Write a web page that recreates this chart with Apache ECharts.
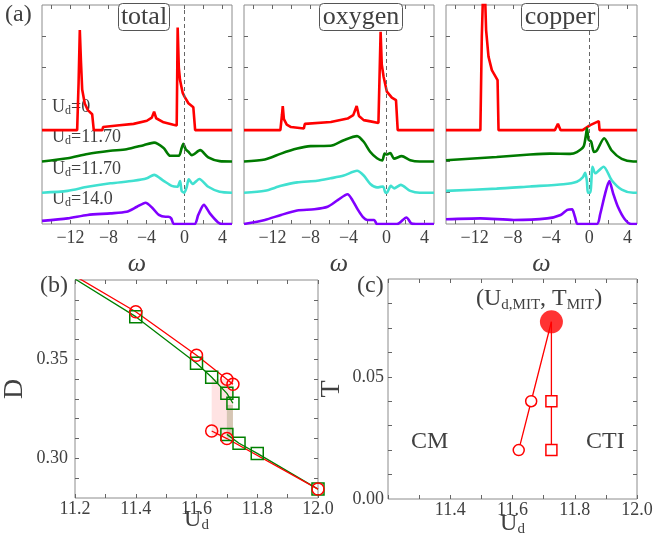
<!DOCTYPE html>
<html>
<head>
<meta charset="utf-8">
<script src="https://cdn.jsdelivr.net/npm/echarts@6/dist/echarts.min.js"></script>
<style>
html,body{margin:0;padding:0;background:#fff;}
#main{width:656px;height:548px;}
</style>
</head>
<body>
<div id="main"></div>
<script>
// spectral functions; baseline offset added below
var totalRed = [[-15,0],[-11.3,0],[-11.15,1.5],[-11.02,3.2],[-10.9,2.2],[-10.77,1.3],[-10.5,0.85],[-10.17,0.64],[-9.72,0.51],[-9.6,0.49],[-9.55,0],[-8.65,0],[-8.57,0.1],[-7.1,0.15],[-5.36,0.2],[-3.96,0.3],[-3.44,0.4],[-3.2,0.59],[-2.98,0.38],[-2.2,0.25],[-1.17,0.17],[-0.82,0.15],[-0.76,2.0],[-0.72,3.28],[-0.6,2.0],[-0.47,1.6],[-0.2,1.2],[0.0,1.07],[0.41,0.86],[0.93,0.73],[1.05,0.7],[1.12,0],[5,0]];
var totalGreen = [[-15,0],[-12.3,0.1],[-10.2,0.24],[-7.8,0.34],[-6.1,0.39],[-4.3,0.52],[-3.2,0.6],[-2.2,0.43],[-1.5,0.18],[-0.6,0.18],[-0.3,0.43],[-0.12,0.56],[0.12,0.39],[0.41,0.31],[0.77,0.2],[1.65,0.36],[2.5,0.13],[3.7,0.01],[5,0]];
var totalCyan = [[-15,0],[-12.3,0.06],[-10.2,0.19],[-7.8,0.3],[-5.36,0.38],[-3.96,0.46],[-3.2,0.57],[-2.2,0.38],[-1.35,0.22],[-0.75,0.19],[-0.47,0.37],[-0.3,0.06],[-0.03,0],[0.24,0.19],[0.45,0.43],[0.86,0.28],[1.56,0.44],[2.5,0.19],[3.7,0.03],[5,0]];
var totalPurple = [[-15,0.1],[-12.3,0.18],[-10.2,0.29],[-7.8,0.34],[-6.1,0.39],[-5.0,0.55],[-4.1,0.68],[-3.4,0.52],[-2.7,0.29],[-2.0,0.23],[-1.7,0.23],[-1.4,0.18],[-1.1,0],[1.05,0],[1.45,0.29],[2.04,0.61],[2.67,0.34],[3.54,0.05],[4.06,0],[5,0]];

var oxyRed = [[-15,0],[-11.17,0],[-11.0,0.5],[-10.92,0.77],[-10.8,0.35],[-10.5,0.18],[-10.05,0.1],[-8.7,0.05],[-8.6,0.2],[-5.86,0.26],[-4.1,0.37],[-3.5,0.48],[-3.14,0.77],[-2.9,0.45],[-2.4,0.32],[-1.68,0.28],[-0.85,0.23],[-0.62,3.14],[-0.5,2.1],[-0.3,1.7],[0.04,1.23],[0.56,1.04],[1.0,0.96],[1.1,0.94],[1.18,0],[5,0]];
var oxyGreen = [[-15,0],[-12.8,0.06],[-11.1,0.25],[-9.4,0.41],[-8.0,0.49],[-5.9,0.5],[-4.5,0.68],[-3.1,0.81],[-2.4,0.63],[-1.7,0.3],[-1.0,0.1],[-0.45,0.03],[-0.2,0.25],[0.05,0.22],[0.4,0.27],[0.8,0.09],[1.6,0.17],[2.5,0.04],[3.5,0],[5,0]];
var oxyCyan = [[-15,0],[-12.8,0.06],[-11.1,0.22],[-9.4,0.33],[-7.3,0.38],[-5.9,0.46],[-4.5,0.55],[-3.1,0.7],[-2.4,0.55],[-1.7,0.28],[-1.0,0.17],[-0.37,0.2],[-0.1,0],[0.04,0],[0.45,0.22],[0.8,0.14],[1.5,0.25],[2.5,0.06],[3.5,0],[5,0]];
var oxyPurple = [[-15,0],[-12.8,0.13],[-11.1,0.29],[-9.4,0.43],[-7.6,0.47],[-6.2,0.55],[-5.1,0.77],[-4.1,0.95],[-3.6,0.77],[-3.0,0.45],[-2.5,0.23],[-2.0,0.13],[-1.3,0.13],[-1.0,0],[1.1,0],[2.1,0.21],[2.6,0.02],[3.1,0],[5,0]];

var cuRed = [[-15,0],[-11.4,0],[-11.25,3.0],[-11.1,4.6],[-10.9,4.2],[-10.8,3.2],[-10.55,2.35],[-10.2,1.92],[-9.6,1.6],[-9.5,0],[-3.6,0],[-3.28,0.2],[-3.0,0],[-0.7,0],[0.1,0.16],[1.0,0.29],[1.08,0],[5,0]];
var cuGreen = [[-15,0.04],[-9.7,0.14],[-6.2,0.22],[-4.1,0.25],[-2.0,0.24],[-1.3,0.3],[-0.6,0.47],[-0.35,0.84],[-0.24,1.06],[-0.07,0.7],[0.2,0.63],[0.5,0.3],[0.8,0.35],[1.56,0.74],[2.35,0.35],[3.4,0.08],[4.6,0],[5,0]];
var cuCyan = [[-15,0.06],[-9.7,0.13],[-6.2,0.2],[-2.7,0.27],[-1.3,0.35],[-0.66,0.5],[-0.42,0.64],[-0.24,0.35],[-0.14,0],[0.1,0],[0.35,0.83],[0.63,0.62],[1.5,0.83],[2.35,0.4],[3.4,0.1],[4.6,0],[5,0]];
var cuPurple = [[-15,0.15],[-11.4,0.18],[-7.9,0.13],[-4.4,0.18],[-3.0,0.29],[-2.3,0.45],[-1.8,0.47],[-1.5,0.23],[-1.2,0],[0.8,0],[1.15,0.32],[1.67,0.98],[2.1,1.37],[2.5,0.98],[3.0,0.55],[3.7,0.16],[4.4,0],[5,0]];

var offsets = [3, 2, 1, 0];
var curveColors = ['#ff0000', '#007a00', '#40e0d0', '#8000ff'];
var panelNames = ['total', 'oxygen', 'copper'];
var panelCurves = [
  [totalRed, totalGreen, totalCyan, totalPurple],
  [oxyRed, oxyGreen, oxyCyan, oxyPurple],
  [cuRed, cuGreen, cuCyan, cuPurple]
];
var udLabels = ['0', '11.70', '11.70', '14.0'];
var omegaLabels = [-12, -8, -4, 0, 4];
var omegaTicks = [-14, -12, -10, -8, -6, -4, -2, 0, 2, 4];
var levelTicks = [1, 2, 3, 4, 5, 6];

// (b) double occupancy D vs U_d
var bRedUpUd = [11.2, 11.4, 11.6, 11.70, 11.72];
var bRedUpD = [0.392, 0.374, 0.352, 0.3399, 0.3374];
var bRedLoUd = [11.65, 11.70, 12.0];
var bRedLoD = [0.3138, 0.3100, 0.2845];
var bGreenUpUd = [11.2, 11.4, 11.6, 11.65, 11.70, 11.72];
var bGreenUpD = [0.3905, 0.3715, 0.348, 0.3409, 0.3328, 0.3278];
var bGreenLoUd = [11.70, 11.74, 11.80, 12.0];
var bGreenLoD = [0.3121, 0.3076, 0.3025, 0.2845];
var coexRed = [11.65, 11.72, 0.311, 0.340];
var coexGreen = [11.70, 11.72, 0.310, 0.327];
var udTicks = [11.2, 11.3, 11.4, 11.5, 11.6, 11.7, 11.8, 11.9, 12.0];
var dTicks = [0.29, 0.30, 0.31, 0.32, 0.33, 0.34, 0.35, 0.36, 0.37, 0.38];

// (c) phase diagram
var cCircUd = [11.62, 11.66];
var cCircT = [0.02, 0.04];
var cSqUd = [11.725, 11.725];
var cSqT = [0.02, 0.04];
var mitUd = 11.725;
var mitT = 0.0725;
var tTicks = [0.01, 0.02, 0.03, 0.04, 0.05, 0.06, 0.07, 0.08];

var SERIF = '"Liberation Serif","DejaVu Serif",serif';
var TXT = '#404040';
var FRAME = '#8c8c8c';

function zip(a, b) { return a.map(function (v, i) { return [v, b[i]]; }); }
function minus(v) { return v < 0 ? '\u2212' + (-v) : String(v); }

var grids = [
  {left: 42, top: 5, width: 190, height: 219},
  {left: 244, top: 5, width: 190, height: 219},
  {left: 446, top: 5, width: 191, height: 219},
  {left: 70, top: 280, width: 248, height: 218},
  {left: 388, top: 279, width: 249, height: 220}
].map(function (g) {
  g.show = true; g.borderColor = FRAME; g.borderWidth = 1; g.backgroundColor = 'transparent';
  return g;
});

var xAxes = [], yAxes = [], series = [];
var udName = '{u|U}{s|d}';
var udRich = {
  u: {fontSize: 24, fontFamily: SERIF, color: TXT},
  s: {fontSize: 15, fontFamily: SERIF, color: TXT, padding: [12, 0, 0, 0]}
};

function tickAxis(extra) {
  var a = {
    type: 'value',
    axisLine: {show: false, onZero: false},
    splitLine: {show: false},
    axisTick: {inside: true, length: 4, lineStyle: {color: '#666'}},
    axisLabel: {fontFamily: SERIF, fontSize: 18, color: TXT}
  };
  for (var k in extra) {
    if (typeof extra[k] === 'object' && a[k] && !Array.isArray(extra[k])) {
      a[k] = Object.assign({}, a[k], extra[k]);
    } else a[k] = extra[k];
  }
  return a;
}

// top panels
panelCurves.forEach(function (curves, p) {
  xAxes.push(tickAxis({gridIndex: p, min: -15, max: 5,
    axisTick: {customValues: omegaTicks},
    axisLabel: {customValues: omegaLabels, formatter: minus, margin: 5},
    name: '\u03c9', nameLocation: 'middle', nameGap: 27,
    nameTextStyle: {fontFamily: SERIF, fontStyle: 'italic', fontSize: 26, color: TXT}}));
  xAxes.push(tickAxis({gridIndex: p, min: -15, max: 5, position: 'top',
    axisTick: {customValues: omegaTicks}, axisLabel: {show: false}}));
  yAxes.push(tickAxis({gridIndex: p, min: 0, max: 7,
    axisTick: {customValues: levelTicks}, axisLabel: {show: false}}));
  yAxes.push(tickAxis({gridIndex: p, min: 0, max: 7, position: 'right',
    axisTick: {customValues: levelTicks}, axisLabel: {show: false}}));
  curves.forEach(function (c, i) {
    var s = {
      type: 'line', xAxisIndex: 2 * p, yAxisIndex: 2 * p,
      data: c.map(function (d) { return [d[0], d[1] + offsets[i]]; }),
      showSymbol: false, symbol: 'none', smooth: i === 0 ? false : 0.25,
      lineStyle: {color: curveColors[i], width: 2.6}, z: 3 + i, clip: true
    };
    if (i === 3) {
      s.markLine = {silent: true, symbol: 'none', label: {show: false},
        lineStyle: {color: '#666', type: [4, 3], width: 1},
        data: [{xAxis: 0}]};
    }
    series.push(s);
  });
});

// panel b
xAxes.push(tickAxis({gridIndex: 3, min: 11.2, max: 12.0,
  axisTick: {customValues: udTicks},
  axisLabel: {customValues: [11.2, 11.4, 11.6, 11.8, 12.0], formatter: function (v) { return v.toFixed(1); }, margin: 2},
  name: udName, nameLocation: 'middle', nameGap: 8, nameMoveOverlap: false, nameTextStyle: {rich: udRich}}));
xAxes.push(tickAxis({gridIndex: 3, min: 11.2, max: 12.0, position: 'top',
  axisTick: {customValues: udTicks}, axisLabel: {show: false}}));
yAxes.push(tickAxis({gridIndex: 3, min: 0.28, max: 0.39,
  axisTick: {customValues: dTicks},
  axisLabel: {customValues: [0.30, 0.35], formatter: function (v) { return v.toFixed(2); }, margin: 7},
  name: 'D', nameLocation: 'middle', nameGap: 46, nameRotate: 90,
  nameTextStyle: {fontFamily: SERIF, fontSize: 28, color: TXT}}));
yAxes.push(tickAxis({gridIndex: 3, min: 0.28, max: 0.39, position: 'right',
  axisTick: {customValues: dTicks}, axisLabel: {show: false}}));

// panel c
xAxes.push(tickAxis({gridIndex: 4, min: 11.2, max: 12.0,
  axisTick: {customValues: udTicks},
  axisLabel: {customValues: [11.4, 11.6, 11.8, 12.0], formatter: function (v) { return v.toFixed(1); }, margin: 2},
  name: udName, nameLocation: 'middle', nameGap: 11, nameMoveOverlap: false, nameTextStyle: {rich: udRich}}));
xAxes.push(tickAxis({gridIndex: 4, min: 11.2, max: 12.0, position: 'top',
  axisTick: {customValues: udTicks}, axisLabel: {show: false}}));
yAxes.push(tickAxis({gridIndex: 4, min: 0, max: 0.09,
  axisTick: {customValues: tTicks},
  axisLabel: {customValues: [0, 0.05], formatter: function (v) { return v.toFixed(2); }, margin: 4},
  name: 'T', nameLocation: 'middle', nameGap: 42, nameRotate: 90,
  nameTextStyle: {fontFamily: SERIF, fontSize: 28, color: TXT}}));
yAxes.push(tickAxis({gridIndex: 4, min: 0, max: 0.09, position: 'right',
  axisTick: {customValues: tTicks}, axisLabel: {show: false}}));

var RED = '#ff0000', GREEN = '#008000';
function bLine(ud, d, color, sym) {
  return {
    type: 'line', xAxisIndex: 6, yAxisIndex: 6, data: zip(ud, d),
    symbol: sym, symbolSize: 12,
    showAllSymbol: true, clip: true,
    itemStyle: {color: 'transparent', borderColor: color, borderWidth: 1.5},
    lineStyle: {color: color, width: 1.3}, z: 5
  };
}
var bRedUp = bLine(bRedUpUd, bRedUpD, RED, 'circle');
bRedUp.data[0] = {value: bRedUp.data[0], symbol: 'none'};
series.push({
  type: 'line', xAxisIndex: 6, yAxisIndex: 6, data: [], z: 1,
  markArea: {silent: true, data: [
    [{coord: [coexRed[0], coexRed[2]], itemStyle: {color: 'rgba(255,60,60,0.14)'}}, {coord: [coexRed[1], coexRed[3]]}],
    [{coord: [coexGreen[0], coexGreen[2]], itemStyle: {color: 'rgba(90,110,40,0.25)'}}, {coord: [coexGreen[1], coexGreen[3]]}]
  ]}
});
series.push(bLine(bGreenUpUd, bGreenUpD, GREEN, 'rect'));
series.push(bLine(bGreenLoUd, bGreenLoD, GREEN, 'rect'));
series.push(bRedUp);
series.push(bLine(bRedLoUd, bRedLoD, RED, 'circle'));

// panel c series
series.push({
  type: 'line', xAxisIndex: 8, yAxisIndex: 8,
  data: zip(cCircUd.concat([mitUd]), cCircT.concat([mitT])),
  symbol: 'circle', symbolSize: 11, showAllSymbol: true,
  itemStyle: {color: '#fff', borderColor: RED, borderWidth: 1.5},
  lineStyle: {color: RED, width: 1.3}, z: 4
});
series[series.length - 1].data[2] = {value: [mitUd, mitT], symbol: 'none'};
series.push({
  type: 'line', xAxisIndex: 8, yAxisIndex: 8,
  data: zip(cSqUd.concat([mitUd]), cSqT.concat([mitT])),
  symbol: 'rect', symbolSize: 11, showAllSymbol: true,
  itemStyle: {color: '#fff', borderColor: RED, borderWidth: 1.5},
  lineStyle: {color: RED, width: 1.3}, z: 4
});
series[series.length - 1].data[2] = {value: [mitUd, mitT], symbol: 'none'};
series.push({
  type: 'scatter', xAxisIndex: 8, yAxisIndex: 8, data: [[mitUd, mitT]],
  symbol: 'circle', symbolSize: 23, itemStyle: {color: RED}, z: 6
});

// boxed panel names, centred at 141 / 358 / 557
var boxCentres = [141, 358, 557];
var titles = panelNames.map(function (n, p) {
  return {
    text: n, left: boxCentres[p], top: 3, textAlign: 'center',
    textStyle: {fontFamily: SERIF, fontSize: 26, fontWeight: 'normal', color: TXT, lineHeight: 26},
    padding: [1, 3, 1, 3], backgroundColor: '#fff', borderColor: '#555', borderWidth: 1, borderRadius: 4
  };
});

var graphics = [
  {type: 'text', left: 5, top: 3, style: {text: '(a)', font: '24px ' + SERIF, fill: TXT}},
  {type: 'text', left: 40, top: 274, style: {text: '(b)', font: '24px ' + SERIF, fill: TXT}},
  {type: 'text', left: 357, top: 274, style: {text: '(c)', font: '24px ' + SERIF, fill: TXT}},
  {type: 'text', left: 411, top: 430, style: {text: 'CM', font: '24px ' + SERIF, fill: TXT}},
  {type: 'text', left: 586, top: 430, style: {text: 'CTI', font: '24px ' + SERIF, fill: TXT}},
  {type: 'text', left: 476, top: 287, style: {
    text: '{b|(U}{s|d,MIT}{b|, T}{s|MIT}{b|)}',
    rich: {
      b: {font: '24px ' + SERIF, fill: TXT, color: TXT},
      s: {font: '15px ' + SERIF, fill: TXT, color: TXT, padding: [12, 0, 0, 0]}
    }
  }}
];
var udTop = [98, 128, 160, 190];
udLabels.forEach(function (u, i) {
  graphics.push({type: 'text', left: 52, top: udTop[i], style: {
    text: '{b|U}{s|d}{b|=' + u + '}',
    rich: {
      b: {font: '18px ' + SERIF, fill: TXT, color: TXT},
      s: {font: '12px ' + SERIF, fill: TXT, color: TXT, padding: [8, 0, 0, 0]}
    }
  }});
});

var chart = echarts.init(document.getElementById('main'), null, {renderer: 'canvas'});
chart.setOption({
  animation: false,
  backgroundColor: '#fff',
  title: titles,
  grid: grids,
  xAxis: xAxes,
  yAxis: yAxes,
  series: series,
  graphic: graphics
});
</script>
</body>
</html>
